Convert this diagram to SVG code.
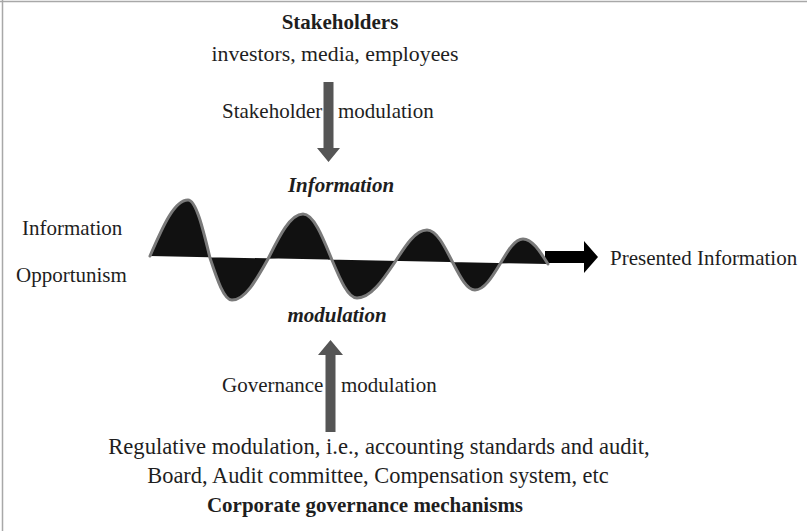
<svg xmlns="http://www.w3.org/2000/svg" width="807" height="531" viewBox="0 0 807 531">
  <style>
    .t { font-family: "Liberation Serif", "Times New Roman", serif; font-size: 21px; fill: #1e1e1e; }
    .b { font-weight: bold; }
    .bi { font-weight: bold; font-style: italic; }
    .c { text-anchor: middle; }
    .flow { fill: #555555; }
    .frame { stroke: #a8a8a8; stroke-width: 1.5; fill: none; }
  </style>

  <rect x="0" y="0" width="807" height="531" fill="#ffffff"/>
  <path class="frame" d="M0 1.5 H807 M2.5 0 V531"/>

  <!-- Stakeholders (top source) -->
  <g id="stakeholders">
    <text class="t b c" x="340" y="29">Stakeholders</text>
    <text class="t c" x="335" y="61" style="font-size:21.8px">investors, media, employees</text>
  </g>

  <!-- Corporate governance (bottom source) -->
  <g id="governance">
    <text class="t c" x="379" y="454" style="font-size:22.6px">Regulative modulation, i.e., accounting standards and audit,</text>
    <text class="t c" x="378" y="483" style="font-size:22.4px">Board, Audit committee, Compensation system, etc</text>
    <text class="t b c" x="365" y="512">Corporate governance mechanisms</text>
  </g>

  <!-- Left-hand label -->
  <g id="opportunism">
    <text class="t" x="22" y="235">Information</text>
    <text class="t" x="16" y="282">Opportunism</text>
  </g>

  <!-- Output label -->
  <g id="presented">
    <text class="t" x="610" y="265">Presented Information</text>
  </g>

  <!-- Central modulation wave -->
  <g id="wave">
    <text class="t bi c" x="341" y="192">Information</text>
    <text class="t bi c" x="337" y="322">modulation</text>
    <path fill="#000000" d="M545 251 H584 V241 L598 257 L584 273 V263 H545 Z"/>
    <path id="waveFill" fill="#111111" d="M150 256
      C162.7 226.6 174.3 200 188 200
      C195.9 200 202.7 227.6 210 258
      C217.3 280.1 224.1 300 232 300
      C245 300 256 280.5 268 259
      C279.7 235.4 290.4 214 303 214
      C313.4 214 322.3 235.9 332 260
      C340.4 280 348 298 357 298
      C370.7 298 382.3 280.9 395 262
      C405.7 245.2 415.5 230 427 230
      C436.4 230 444.3 245.7 453 263
      C460.3 277.2 467.1 290 475 290
      C484 290 491.7 277.7 500 264
      C507.7 250.9 514.7 239 523 239
      C532 239 539.7 250.9 548 264 Z"/>
    <path fill="none" stroke="#7a7a7a" stroke-width="3" stroke-linejoin="round" stroke-linecap="round" d="M150 256
      C162.7 226.6 174.3 200 188 200
      C195.9 200 202.7 227.6 210 258
      C217.3 280.1 224.1 300 232 300
      C245 300 256 280.5 268 259
      C279.7 235.4 290.4 214 303 214
      C313.4 214 322.3 235.9 332 260
      C340.4 280 348 298 357 298
      C370.7 298 382.3 280.9 395 262
      C405.7 245.2 415.5 230 427 230
      C436.4 230 444.3 245.7 453 263
      C460.3 277.2 467.1 290 475 290
      C484 290 491.7 277.7 500 264
      C507.7 250.9 514.7 239 523 239
      C532 239 539.7 250.9 548 264"/>
  </g>

  <!-- Modulation connectors -->
  <g id="connectors">
    <g id="stakeholder-modulation">
      <path class="flow" d="M323.5 82 H333.5 V148 H340 L328.5 162 L317 148 H323.5 Z"/>
      <text class="t" x="222" y="118">Stakeholder</text>
      <text class="t" x="338" y="118">modulation</text>
    </g>
    <g id="governance-modulation">
      <path class="flow" d="M325.5 432 H335.5 V355 H343 L330.5 340 L318 355 H325.5 Z"/>
      <text class="t" x="222" y="392">Governance</text>
      <text class="t" x="341" y="392">modulation</text>
    </g>
  </g>
</svg>
